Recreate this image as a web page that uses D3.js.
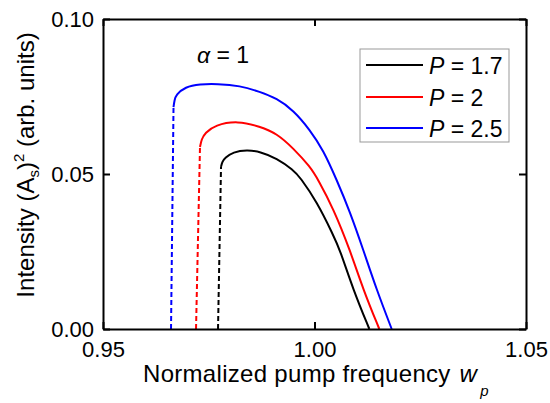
<!DOCTYPE html>
<html><head><meta charset="utf-8">
<script src="https://cdn.jsdelivr.net/npm/d3@7"></script>
<style>
body{margin:0;background:#fff}
text{font-family:Arial,"Liberation Sans",sans-serif;fill:#000}
</style>
</head><body>
<svg id="c" width="550" height="403"></svg>
<script>
// ---- data ----
const xTicks = [0.95, 1.00, 1.05];
const yTicks = [0.00, 0.05, 0.10];
const seriesNames = ["P = 1.7", "P = 2", "P = 2.5"];
const seriesColors = ["#000000", "#ff0000", "#0000ff"];

const blackX = [0.97790,0.97820,0.97884,0.98073,0.98404,0.98712,0.99106,0.99499,0.99657,1.00052,1.00444,1.00603,1.00917,1.01296];
const blackY = [0.0523,0.0540,0.0552,0.0571,0.0578,0.0572,0.0551,0.0513,0.0490,0.0411,0.0303,0.0255,0.0126,0.0];
const redX   = [0.97293,0.97330,0.97411,0.97648,0.98191,0.98712,0.99106,0.99499,0.99894,1.00090,1.00444,1.00839,1.01154,1.01532];
const redY   = [0.0587,0.0612,0.0632,0.0658,0.0672,0.0653,0.0631,0.0583,0.0524,0.0481,0.0389,0.0255,0.0126,0.0];
const blueX  = [0.96667,0.96690,0.96726,0.96939,0.97293,0.97695,0.98239,0.98712,0.99106,0.99499,0.99894,1.00208,1.00525,1.00839,1.01154,1.01470,1.01825];
const blueY  = [0.0716,0.0738,0.0755,0.0781,0.0790,0.0791,0.0785,0.0765,0.0744,0.0706,0.0642,0.0577,0.0481,0.0378,0.0255,0.0126,0.0];

// dashed (jump) segments: [bottom, top]
const blackDashX = [0.97719, 0.97790], blackDashY = [0.0, 0.0523];
const redDashX   = [0.97199, 0.97293], redDashY   = [0.0, 0.0587];
const blueDashX  = [0.96608, 0.96667], blueDashY  = [0.0, 0.0716];

// ---- drawing ----
const svg = d3.select("#c");
svg.append("rect").attr("width",550).attr("height",403).attr("fill","#fff");
const L=103, R=526, T=19, B=329;
const x = d3.scaleLinear().domain([0.95,1.05]).range([L,R]);
const y = d3.scaleLinear().domain([0,0.10]).range([B,T]);

const solid = [[blackX,blackY],[redX,redY],[blueX,blueY]];
const dashed = [[blackDashX,blackDashY],[redDashX,redDashY],[blueDashX,blueDashY]];

const line = d3.line().x(d=>x(d[0])).y(d=>y(d[1])).curve(d3.curveBasis);
const lineStraight = d3.line().x(d=>x(d[0])).y(d=>y(d[1]));

dashed.forEach((s,i)=>{
  svg.append("path").attr("d", lineStraight(d3.zip(s[0],s[1])))
    .attr("fill","none").attr("stroke",seriesColors[i]).attr("stroke-width",2)
    .attr("stroke-dasharray","5,3");
});
solid.forEach((s,i)=>{
  svg.append("path").attr("d", line(d3.zip(s[0],s[1])))
    .attr("fill","none").attr("stroke",seriesColors[i]).attr("stroke-width",2)
    .attr("stroke-linejoin","round");
});

// axes
const fmt = d3.format(".2f");
function styleAxis(g){
  g.selectAll("path.domain").attr("stroke","#000").attr("stroke-width",2);
  g.selectAll(".tick line").attr("stroke","#000").attr("stroke-width",2);
  g.selectAll(".tick text").attr("font-size",22).attr("fill","#000")
    .attr("font-family","Arial, 'Liberation Sans', sans-serif");
}
svg.append("g").attr("transform",`translate(0,${B})`)
  .call(d3.axisBottom(x).tickValues(xTicks).tickFormat(fmt).tickSizeInner(-7).tickSizeOuter(0).tickPadding(12))
  .call(styleAxis);
svg.append("g").attr("transform",`translate(0,${T})`)
  .call(d3.axisTop(x).tickValues(xTicks).tickFormat("").tickSizeInner(-7).tickSizeOuter(0))
  .call(styleAxis);
svg.append("g").attr("transform",`translate(${L},0)`)
  .call(d3.axisLeft(y).tickValues(yTicks).tickFormat(fmt).tickSizeInner(-7).tickSizeOuter(0).tickPadding(9))
  .call(styleAxis);
svg.append("g").attr("transform",`translate(${R},0)`)
  .call(d3.axisRight(y).tickValues(yTicks).tickFormat("").tickSizeInner(-7).tickSizeOuter(0))
  .call(styleAxis);

// x title
const xt = svg.append("text").attr("x",143).attr("y",382).attr("font-size",24).attr("letter-spacing",0.3);
xt.append("tspan").text("Normalized pump frequency ");
xt.append("tspan").attr("font-style","italic").attr("dx",2).text("w");
xt.append("tspan").attr("font-style","italic").attr("font-size",15).attr("dx",3).attr("dy",14).text("p");

// y title
const yt = svg.append("text").attr("transform","translate(34,165) rotate(-90)")
  .attr("text-anchor","middle").attr("font-size",24);
yt.append("tspan").text("Intensity (A");
yt.append("tspan").attr("font-size",15).attr("dy",5).text("s");
yt.append("tspan").attr("dy",-5).text(")");
yt.append("tspan").attr("font-size",15).attr("dy",-10).text("2");
yt.append("tspan").attr("dy",10).text(" (arb. units)");

// alpha label
const at = svg.append("text").attr("x",197).attr("y",63).attr("font-size",23);
at.append("tspan").attr("font-style","italic").text("α");
at.append("tspan").text(" = 1");

// legend
svg.append("rect").attr("x",360).attr("y",49).attr("width",149).attr("height",93)
  .attr("fill","#fff").attr("stroke","#999").attr("stroke-width",1);
const legY = [65, 97, 128];
seriesNames.forEach((n,i)=>{
  svg.append("line").attr("x1",366).attr("x2",423).attr("y1",legY[i]).attr("y2",legY[i])
    .attr("stroke",seriesColors[i]).attr("stroke-width",2);
  const t = svg.append("text").attr("x",429).attr("y",legY[i]+9).attr("font-size",23);
  t.append("tspan").attr("font-style","italic").text(n.split(" ")[0]);
  t.append("tspan").text(" " + n.split(" ").slice(1).join(" "));
});
</script>
</body></html>
